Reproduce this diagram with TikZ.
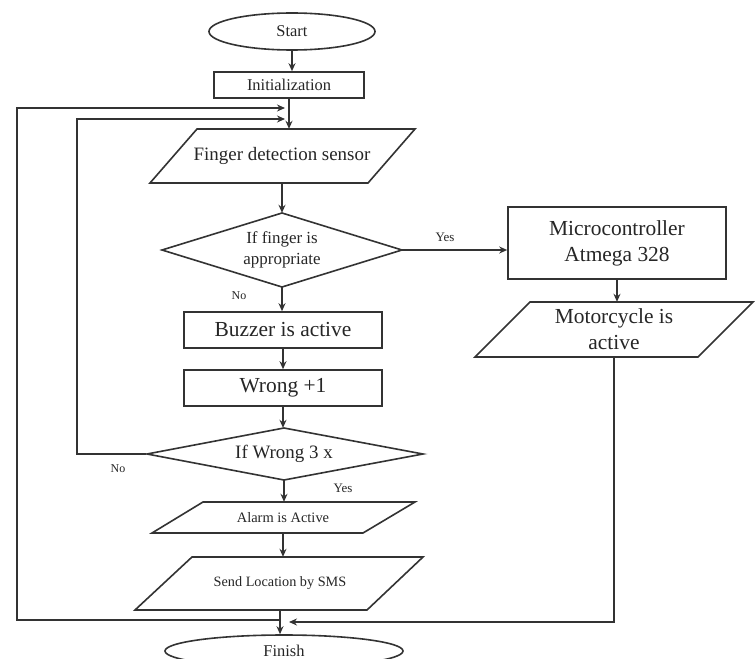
\documentclass[tikz,border=0pt]{standalone}
\usepackage{fontspec}
\setmainfont{Liberation Serif}
\usetikzlibrary{arrows.meta,shapes.geometric,calc}
\begin{document}
\begin{tikzpicture}[x=1bp,y=-1bp,
  ln/.style={draw=black!80,line width=1.6bp},
  arr/.style={ln,-{Stealth[length=8bp,width=7bp]}},
  boxnode/.style={ln,rectangle,inner sep=0pt,align=center,text=black!85},
  ovalnode/.style={ln,ellipse,inner sep=0pt,text=black!85},
  txtnode/.style={rectangle,inner sep=0pt,align=center,text=black!85},
  shp/.style={ln,line join=miter},
  lbl/.style={inner sep=0pt,text=black!85}]
\useasboundingbox (0,0) rectangle (755,659);
\fill[white] (0,0) rectangle (755,659);
% shapes drawn as polygons
\draw[shp] (197,129) -- (415,129) -- (368,183) -- (150,183) -- cycle;
\draw[shp] (282,213) -- (402,250) -- (282,287) -- (162,250) -- cycle;
\draw[shp] (284,428) -- (423,454) -- (284,480) -- (147,454) -- cycle;
\draw[shp] (530,302) -- (753,302) -- (698,357) -- (475,357) -- cycle;
\draw[shp] (203,502) -- (415,502) -- (363,533) -- (152,533) -- cycle;
\draw[shp] (192,557) -- (423,557) -- (367,610) -- (135,610) -- cycle;
% nodes
\node[ovalnode,minimum width=166bp,minimum height=37bp,font=\fontsize{16.5}{18}\selectfont] (start) at (292,31.5) {Start};
\node[boxnode,minimum width=150bp,minimum height=26bp,font=\fontsize{16.5}{18}\selectfont] (init) at (289,85) {Initialization};
\node[txtnode,minimum width=200bp,minimum height=54bp,font=\fontsize{19}{20}\selectfont] (finger) at (282,156) {Finger detection sensor};
\node[txtnode,minimum width=240bp,minimum height=74bp,font=\fontsize{17}{21}\selectfont] (d1) at (282,250) {If finger is\\appropriate};
\node[boxnode,minimum width=218bp,minimum height=72bp,font=\fontsize{21.5}{26}\selectfont] (micro) at (617,243) {Microcontroller\\Atmega 328};
\node[txtnode,minimum width=200bp,minimum height=55bp,font=\fontsize{21.5}{26}\selectfont] (motor) at (614,329.5) {Motorcycle is\\active};
\node[boxnode,minimum width=198bp,minimum height=36bp,font=\fontsize{21.5}{24}\selectfont] (buzzer) at (283,330) {Buzzer is active};
\node[boxnode,minimum width=198bp,minimum height=36bp,font=\fontsize{21.5}{24}\selectfont] (wrong) at (283,388) {Wrong +1};
\node[txtnode,minimum width=276bp,minimum height=52bp,font=\fontsize{19}{21}\selectfont] (d2) at (284,454) {If Wrong 3 x};
\node[txtnode,minimum width=180bp,minimum height=31bp,font=\fontsize{14.5}{16}\selectfont] (alarm) at (283,517.5) {Alarm is Active};
\node[txtnode,minimum width=200bp,minimum height=53bp,font=\fontsize{14.3}{16}\selectfont] (send) at (280,583.5) {Send Location by SMS};
\node[ovalnode,minimum width=238bp,minimum height=32bp,font=\fontsize{16.5}{18}\selectfont] (finish) at (284,651) {Finish};
% labels
\node[lbl,font=\fontsize{13}{14}\selectfont] (yes1) at (445,237) {Yes};
\node[lbl,font=\fontsize{12}{14}\selectfont] (no1) at (239,296) {No};
\node[lbl,font=\fontsize{12}{14}\selectfont] (no2) at (118,469) {No};
\node[lbl,font=\fontsize{13}{14}\selectfont] (yes2) at (343,488) {Yes};
% junction coordinates
\coordinate (in1) at (285,108);
\coordinate (in2) at (285,119);
\coordinate (j1) at (281,620);
\coordinate (j2) at (289,622);
% connectors
\draw[arr] (start.south) -- (start.south |- init.north);
\draw[arr] (init.south) -- (init.south |- finger.north);
\draw[arr] (finger.south) -- (finger.south |- d1.north);
\draw[arr] (d1.east) -- (d1.east -| micro.west);
\draw[arr] (d1.south) -- (d1.south |- buzzer.north);
\draw[arr] (buzzer.south) -- (wrong.north);
\draw[arr] (wrong.south) -- (wrong.south |- d2.north);
\draw[arr] (d2.west) -- (77,454) -- (77,119) -- (in2);
\draw[arr] (d2.south) -- (d2.south |- alarm.north);
\draw[arr] (alarm.south) -- (alarm.south |- send.north);
\draw[arr] (send.south) -- (send.south |- finish.north);
\draw[arr] (micro.south) -- (micro.south |- motor.north);
\draw[arr] (motor.south) -- (motor.south |- j2) -- (j2);
\draw[arr] (j1) -- (17,620) -- (17,108) -- (in1);
\end{tikzpicture}
\end{document}
